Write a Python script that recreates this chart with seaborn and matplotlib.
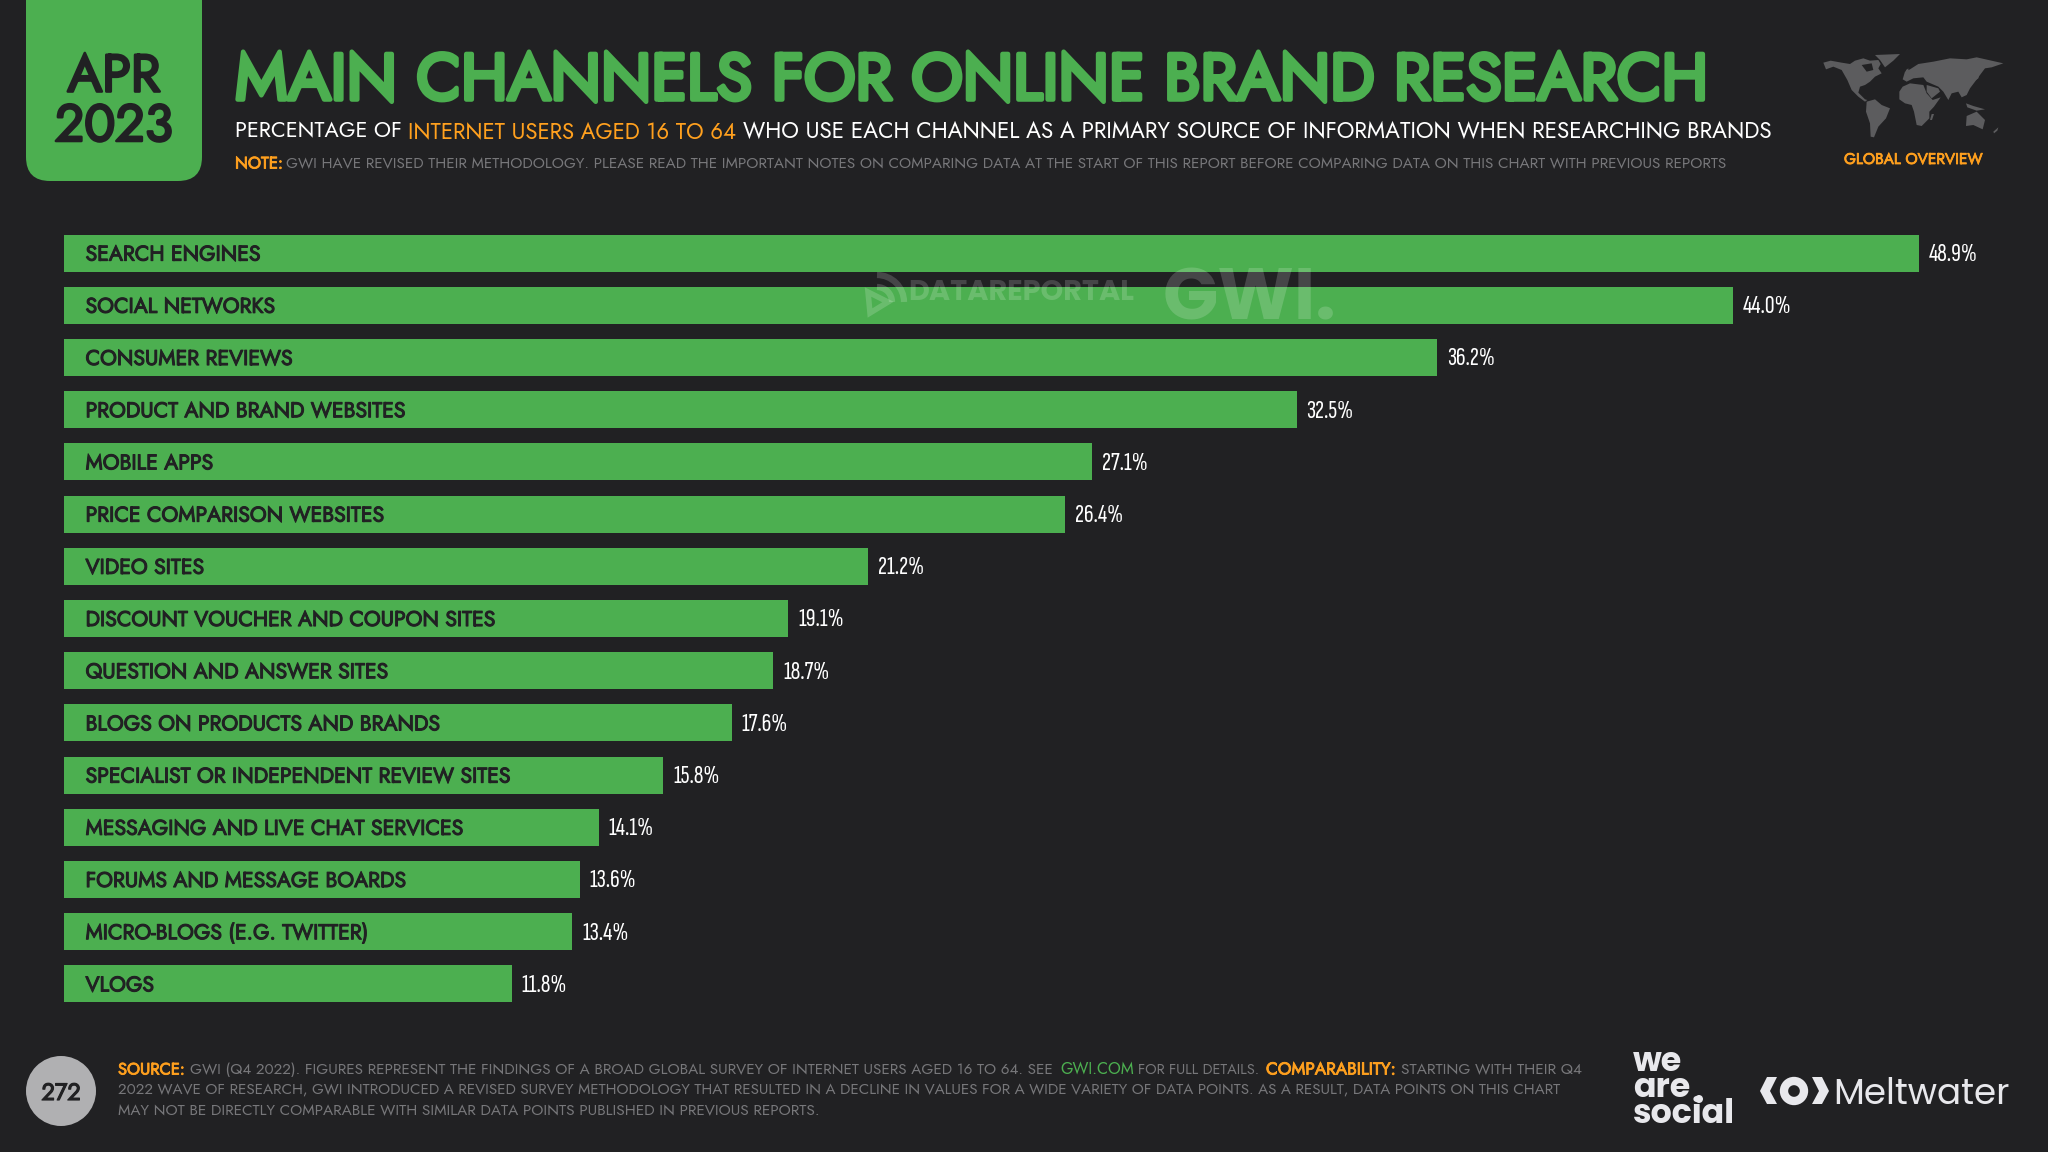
import matplotlib
matplotlib.use('Agg')
import matplotlib.pyplot as plt
import matplotlib.patheffects as pe
import pandas as pd
import seaborn as sns
from matplotlib.patches import Arc, Circle, FancyBboxPatch, Polygon

# Chart values
channels = [
    'SEARCH ENGINES', 'SOCIAL NETWORKS', 'CONSUMER REVIEWS',
    'PRODUCT AND BRAND WEBSITES', 'MOBILE APPS', 'PRICE COMPARISON WEBSITES',
    'VIDEO SITES', 'DISCOUNT VOUCHER AND COUPON SITES',
    'QUESTION AND ANSWER SITES', 'BLOGS ON PRODUCTS AND BRANDS',
    'SPECIALIST OR INDEPENDENT REVIEW SITES', 'MESSAGING AND LIVE CHAT SERVICES',
    'FORUMS AND MESSAGE BOARDS', 'MICRO-BLOGS (E.G. TWITTER)', 'VLOGS'
]
values = [48.9, 44.0, 36.2, 32.5, 27.1, 26.4, 21.2, 19.1, 18.7, 17.6, 15.8, 14.1, 13.6, 13.4, 11.8]

BG = '#212123'
GREEN = '#4CAF50'
ORANGE = '#FFA01E'
GREY = '#77777A'
LOGO = '#E8E8EC'
W, H = 2048, 1152
PX_PER_UNIT = 37.93
MAIN_FONT = ['Jost', 'Lato', 'DejaVu Sans']
VALUE_FONT = ['Sofia Sans Extra Condensed', 'Roboto Condensed', 'Lato']
LOGO_FONT = ['Poppins', 'Lato']

sns.set_theme(style='dark', rc={'figure.facecolor': BG, 'axes.facecolor': BG})
plt.rcParams['font.family'] = MAIN_FONT

fig = plt.figure(figsize=(W / 100, H / 100), dpi=100)


def heavy(t, color, amount=0.05):
    # thicken the strokes, the futura style fonts here have no real bold
    t.set_path_effects([pe.withStroke(linewidth=t.get_fontsize() * amount, foreground=color)])


# Bars
df = pd.DataFrame({'channel': channels, 'value': values})
ax = fig.add_axes([64 / W, (H - 1010) / H, (W - 64) / W, 783 / H])
sns.barplot(data=df, x='value', y='channel', color=GREEN, saturation=1, width=0.71, linewidth=0, ax=ax)
ax.set_xlim(0, (W - 64) / PX_PER_UNIT)
ax.set_axis_off()
for t in ax.bar_label(ax.containers[0], fmt='%.1f%%', padding=7, color='white', fontsize=19.5, family=VALUE_FONT):
    t.xyann = (t.xyann[0], -1)
for i, name in enumerate(channels):
    label = ax.annotate(name, xy=(0, i), xytext=(15.5, 0.7), textcoords='offset points', va='center_baseline',
                        ha='left', color=BG, fontsize=15.3, fontweight='bold')
    heavy(label, BG)

# Overlay in pixel coordinates for the header, footer and logos
over = fig.add_axes([0, 0, 1, 1])
over.set_xlim(0, W)
over.set_ylim(H, 0)
over.set_axis_off()
over.patch.set_alpha(0)
renderer = fig.canvas.get_renderer()


def fit_text(x, y, s, width, color, weight='normal', ha='left', va='center_baseline', alpha=None, **kw):
    # size the text so it spans the same width as in the slide
    t = over.text(x, y, s, color=color, fontweight=weight, ha=ha, va=va, fontsize=20, alpha=alpha, **kw)
    t.set_fontsize(20 * width / t.get_window_extent(renderer).width)
    if weight == 'bold' and 'family' not in kw:
        heavy(t, color)
    return t


# Date tab
over.add_patch(FancyBboxPatch((26, -60), 176, 241, boxstyle='round,pad=0,rounding_size=24',
                              fc=GREEN, ec='none'))
fit_text(114, 71, 'APR', 93, BG, 'bold', ha='center')
fit_text(114, 121, '2023', 118, BG, 'bold', ha='center')

# Title block
title = fit_text(235, 74, 'MAIN CHANNELS FOR ONLINE BRAND RESEARCH', 1478, GREEN, 'bold')
heavy(title, GREEN, 0.07)
fit_text(235, 129, 'PERCENTAGE OF', 167, 'white')
fit_text(408, 129, 'INTERNET USERS AGED 16 TO 64', 330, ORANGE)
fit_text(743, 129, 'WHO USE EACH CHANNEL AS A PRIMARY SOURCE OF INFORMATION WHEN RESEARCHING BRANDS', 1036, 'white')
fit_text(235, 162, 'NOTE:', 48, ORANGE, 'bold')
fit_text(286, 162, 'GWI HAVE REVISED THEIR METHODOLOGY. PLEASE READ THE IMPORTANT NOTES ON COMPARING DATA '
         'AT THE START OF THIS REPORT BEFORE COMPARING DATA ON THIS CHART WITH PREVIOUS REPORTS', 1446, GREY)

# World map, rough continent outlines (zoomed crop coordinates)
land = [
    [(40, 68), (62, 62), (95, 68), (120, 72), (135, 62), (160, 55), (180, 62), (205, 60), (212, 72), (205, 85),
     (215, 100), (195, 110), (180, 125), (165, 135), (150, 140), (145, 158), (165, 178), (172, 180), (165, 185),
     (145, 170), (125, 150), (112, 120), (95, 90), (70, 80), (48, 88)],
    [(195, 45), (270, 42), (250, 62), (225, 82), (210, 60)],
    [(170, 185), (195, 178), (215, 195), (240, 205), (228, 235), (205, 260), (192, 292), (182, 290), (180, 250),
     (168, 215)],
    [(278, 140), (300, 130), (340, 135), (350, 160), (368, 180), (392, 172), (372, 200), (358, 215), (358, 235),
     (335, 258), (320, 255), (312, 215), (305, 195), (285, 190), (268, 178), (268, 155)],
    [(278, 118), (285, 95), (300, 88), (325, 72), (370, 65), (420, 55), (470, 58), (500, 52), (580, 70), (545, 82),
     (525, 85), (510, 105), (495, 125), (480, 145), (470, 165), (455, 172), (445, 155), (425, 160), (415, 180),
     (400, 155), (385, 140), (350, 125), (340, 112), (310, 115), (290, 125)],
    [(350, 135), (385, 145), (390, 155), (365, 175), (350, 155)],
    [(470, 228), (500, 215), (525, 240), (518, 268), (490, 255), (468, 258)],
    [(468, 190), (490, 198), (525, 208), (500, 212), (472, 202)],
    [(505, 95), (512, 90), (505, 115), (495, 122)],
    [(288, 90), (295, 85), (296, 100), (286, 102)],
    [(365, 222), (372, 222), (366, 240), (360, 240)],
    [(550, 275), (565, 262), (562, 272), (552, 280)],
]
for poly in land:
    over.add_patch(Polygon([(1810 + px / 3, 40 + py / 3) for px, py in poly], fc='#5C5C5E', ec='none'))
# hudson bay
over.add_patch(Polygon([(1810 + px / 3, 40 + py / 3) for px, py in [(155, 75), (185, 70), (190, 90), (170, 95)]],
                       fc=BG, ec='none'))
fit_text(1913, 158, 'GLOBAL OVERVIEW', 139, ORANGE, 'bold', ha='center')

# Watermarks sit on top of the bars
over.add_patch(Arc((877, 302), 54, 54, theta1=270, theta2=360, color='white', alpha=0.17, lw=4.5))
over.add_patch(Arc((877, 302), 30, 30, theta1=270, theta2=360, color='white', alpha=0.17, lw=4.5))
over.add_patch(Polygon([(868, 292), (888, 302), (870, 313)], fc='none', ec='white', alpha=0.17, lw=4))
fit_text(908, 290, 'DATAREPORTAL', 226, 'white', 'bold', alpha=0.17, family=LOGO_FONT)
fit_text(1163, 293, 'GWI.', 174, 'white', 'bold', alpha=0.17, family=LOGO_FONT)

# Footer
over.add_patch(Circle((61, 1091), 35, fc='#B0B0B2', ec='none'))
page = over.text(61, 1091, '272', color=BG, fontweight='bold', fontsize=17, ha='center', va='center_baseline')
heavy(page, BG)
fit_text(118, 1068, 'SOURCE:', 67, ORANGE, 'bold')
fit_text(190, 1068, 'GWI (Q4 2022). FIGURES REPRESENT THE FINDINGS OF A BROAD GLOBAL SURVEY OF INTERNET USERS '
         'AGED 16 TO 64. SEE', 866, GREY)
fit_text(1060, 1068, 'GWI.COM', 74, GREEN)
fit_text(1138, 1068, 'FOR FULL DETAILS.', 122, GREY)
fit_text(1266, 1068, 'COMPARABILITY:', 130, ORANGE, 'bold')
fit_text(1401, 1068, 'STARTING WITH THEIR Q4', 182, GREY)
fit_text(118, 1088, '2022 WAVE OF RESEARCH, GWI INTRODUCED A REVISED SURVEY METHODOLOGY THAT RESULTED IN A '
         'DECLINE IN VALUES FOR A WIDE VARIETY OF DATA POINTS. AS A RESULT, DATA POINTS ON THIS CHART', 1449, GREY)
fit_text(118, 1109, 'MAY NOT BE DIRECTLY COMPARABLE WITH SIMILAR DATA POINTS PUBLISHED IN PREVIOUS REPORTS.', 705, GREY)

# Logos
fit_text(1633, 1132, 'we\nare\nsocial', 102, LOGO, 'bold', va='bottom', family=LOGO_FONT, linespacing=0.68)
over.add_patch(Circle((1699, 1099), 4, fc=LOGO, ec='none', zorder=5))

for poly in [[(1777, 1077), (1767, 1077), (1760, 1091), (1767, 1104), (1777, 1104), (1770, 1091)],
             [(1812, 1077), (1822, 1077), (1829, 1091), (1822, 1104), (1812, 1104), (1819, 1091)]]:
    over.add_patch(Polygon(poly, fc=LOGO, ec='none'))
over.add_patch(Circle((1794, 1091), 10, fc='none', ec=LOGO, lw=6))
fit_text(1833, 1091, 'Meltwater', 177, LOGO, family=LOGO_FONT)

fig.savefig('out.png', dpi=100, facecolor=BG)
